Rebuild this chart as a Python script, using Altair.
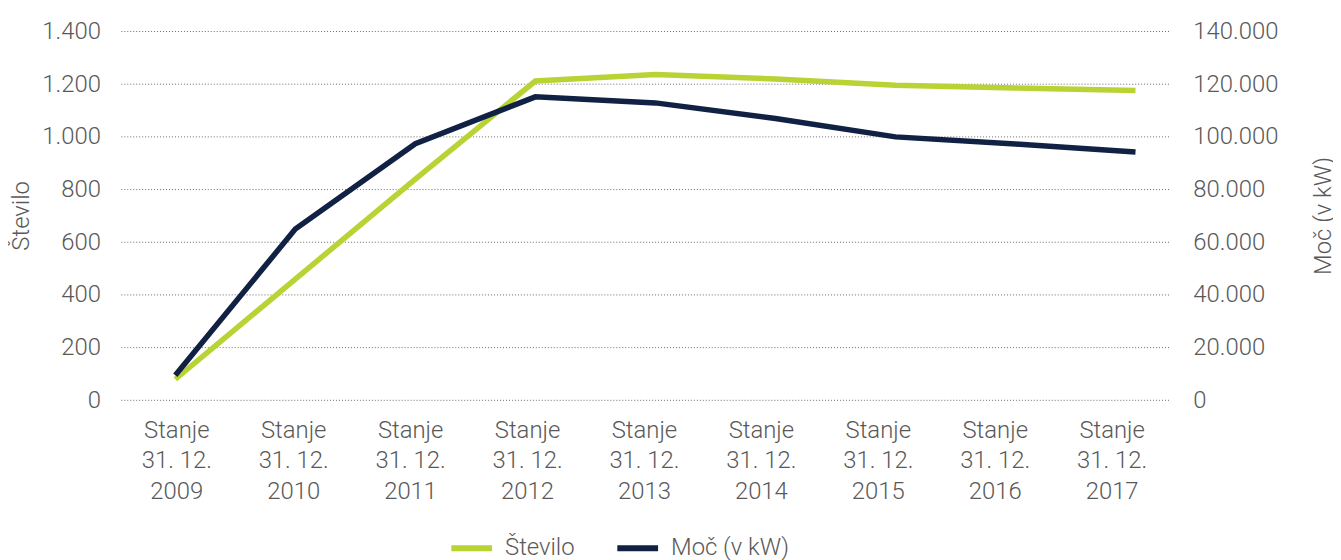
import altair as alt
import pandas as pd

categories = ["Stanje|31. 12.|2009", "Stanje|31. 12.|2010", "Stanje|31. 12.|2011",
              "Stanje|31. 12.|2012", "Stanje|31. 12.|2013", "Stanje|31. 12.|2014",
              "Stanje|31. 12.|2015", "Stanje|31. 12.|2016", "Stanje|31. 12.|2017"]
stevilo = [80, 460, 840, 1212, 1237, 1220, 1196, 1186, 1176]
moc = [9500, 65000, 97400, 115200, 112900, 107000, 100000, 97300, 94300]
left_ticks = [0, 200, 400, 600, 800, 1000, 1200, 1400]
right_ticks = [0, 20000, 40000, 60000, 80000, 100000, 120000, 140000]

series_names = ["Število", "Moč (v kW)"]
series_colors = ["#b7d334", "#102144"]

df = pd.DataFrame({"cat": categories, "stevilo": stevilo, "moc": moc})
grid_df = pd.DataFrame({"g": left_ticks})

FONT = "Roboto"
TXT = "#595959"
W, H = 1056, 371

color = alt.Color(
    "series:N",
    scale=alt.Scale(domain=series_names, range=series_colors),
    sort=series_names,
    legend=alt.Legend(
        title=None, orient="none", legendX=329, legendY=496, direction="horizontal",
        symbolType="stroke", symbolSize=1681, symbolStrokeWidth=6,
        labelFontSize=24, labelFont=FONT, labelFontWeight=300, labelColor=TXT,
        labelOffset=10, columnPadding=31,
    ),
)

x_line = alt.X("cat:N", sort=categories, axis=None,
               scale=alt.Scale(type="point", range=[54.3, 1020.3], padding=0))

base = alt.Chart(df)

grid = alt.Chart(grid_df).mark_rule(color="#6a6a6a", strokeDash=[1, 2], strokeWidth=1).encode(
    y=alt.Y("g:Q", scale=alt.Scale(domain=[0, 1400]), axis=None),
    x=alt.value(0),
    x2=alt.value(W),
)

l1 = base.transform_calculate(series="'Število'").mark_line(strokeWidth=5.5).encode(
    x=x_line,
    y=alt.Y("stevilo:Q", scale=alt.Scale(domain=[0, 1400]),
            axis=alt.Axis(
                values=left_ticks, orient="left", domain=False, ticks=False, grid=False,
                labelExpr="replace(format(datum.value, ','), ',', '.')",
                labelFontSize=24, labelFont=FONT, labelFontWeight=300, labelColor=TXT,
                labelPadding=21,
                title="Število", titleFontSize=24, titleFont=FONT, titleFontWeight=300,
                titleColor=TXT, titleAngle=270, titleX=-100, titleY=185,
                titleBaseline="middle", titleAlign="center",
            )),
    color=color,
)

l2 = base.transform_calculate(series="'Moč (v kW)'").mark_line(strokeWidth=5.5).encode(
    x=x_line,
    y=alt.Y("moc:Q", scale=alt.Scale(domain=[0, 140000]),
            axis=alt.Axis(
                values=right_ticks, orient="right", domain=False, ticks=False, grid=False,
                labelExpr="replace(format(datum.value, ','), ',', '.')",
                labelFontSize=24, labelFont=FONT, labelFontWeight=300, labelColor=TXT,
                labelPadding=22,
                title="Moč (v kW)", titleFontSize=24, titleFont=FONT, titleFontWeight=300,
                titleColor=TXT, titleAngle=270, titleX=153, titleY=185,
                titleBaseline="middle", titleAlign="center",
            )),
    color=color,
)

l3 = base.mark_point(opacity=0).encode(
    x=alt.X("cat:N", sort=categories,
            scale=alt.Scale(type="point", range=[55.3, 996.3], padding=0),
            axis=alt.Axis(
                domain=False, ticks=False, grid=False, labelAngle=0,
                labelExpr="split(datum.label, '|')",
                labelFontSize=24, labelFont=FONT, labelFontWeight=300, labelColor=TXT,
                labelLineHeight=31, labelPadding=18, title=None,
            )),
)

chart = alt.layer(grid, l1, l2, l3).resolve_scale(
    x="independent", y="independent"
).properties(
    width=W, height=H,
    autosize=alt.AutoSizeParams(type="none"),
    padding={"left": 114, "top": 22, "right": 163, "bottom": 159},
).configure_view(stroke=None)

chart.save("out.html", embed_options={"renderer": "svg", "actions": False})
